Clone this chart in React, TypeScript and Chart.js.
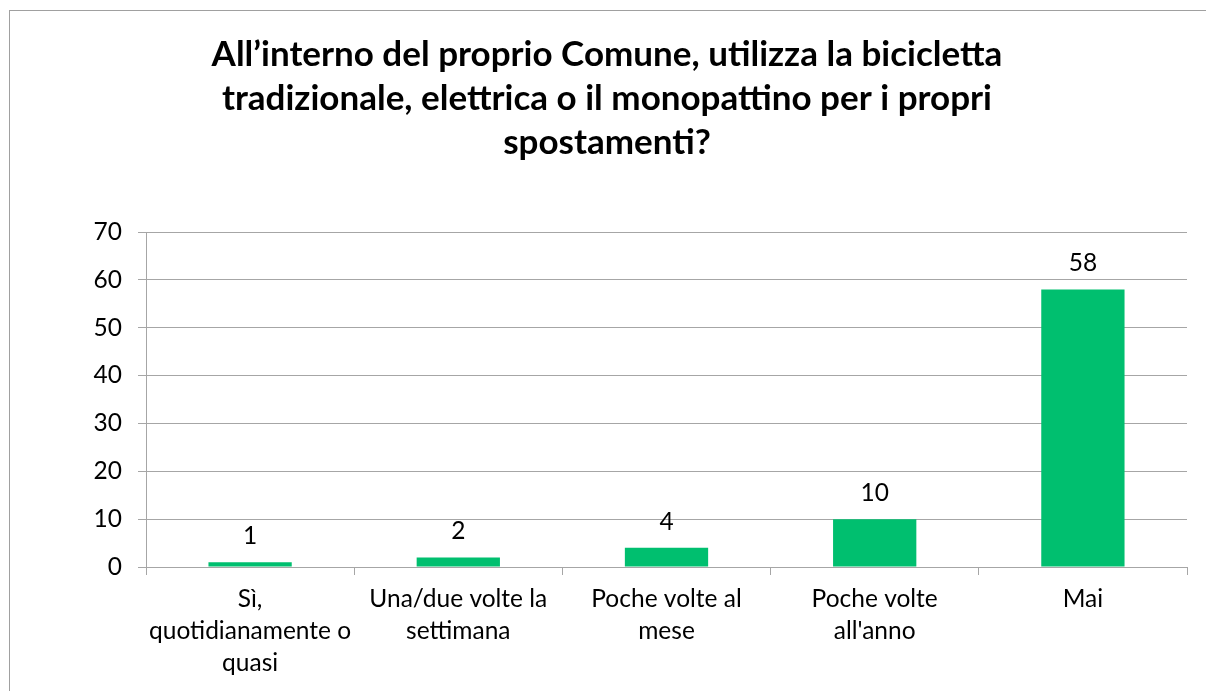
import React, { useEffect, useRef } from "react";
import { Chart, registerables } from "chart.js";

Chart.register(...registerables);

const titleLines = [
  "All’interno del proprio Comune, utilizza la bicicletta",
  "tradizionale, elettrica o il monopattino per i propri",
  "spostamenti?",
];
const categories: string[][] = [
  ["Sì,", "quotidianamente o", "quasi"],
  ["Una/due volte la", "settimana"],
  ["Poche volte al", "mese"],
  ["Poche volte", "all'anno"],
  ["Mai"],
];
const values = [1, 2, 4, 10, 58];
const yMin = 0;
const yMax = 70;
const yStep = 10;

const FONT = "Lato, 'Noto Sans', sans-serif";
const GRID = "#a6a6a6";
const TICK_SIZE = 24.5;

export default function App() {
  const ref = useRef<HTMLCanvasElement | null>(null);
  useEffect(() => {
    if (!ref.current) return;
    const frame = {
      id: "frame",
      beforeDraw(chart: any) {
        const ctx = chart.ctx;
        ctx.save();
        ctx.fillStyle = "#ffffff";
        ctx.fillRect(0, 0, chart.width, chart.height);
        ctx.strokeStyle = "#a0a0a0";
        ctx.lineWidth = 1;
        ctx.strokeRect(9.5, 10.5, chart.width + 20, chart.height + 20);
        ctx.restore();
      },
    };
    const titlePlugin = {
      id: "ctitle",
      afterDraw(chart: any) {
        const ctx = chart.ctx;
        ctx.save();
        ctx.fillStyle = "#000000";
        ctx.font = `bold 35px ${FONT}`;
        ctx.textAlign = "center";
        ctx.textBaseline = "alphabetic";
        titleLines.forEach((l, i) => ctx.fillText(l, 607, 66 + i * 44));
        ctx.restore();
      },
    };
    const dataLabels = {
      id: "dlabels",
      afterDatasetsDraw(chart: any) {
        const ctx = chart.ctx;
        const meta = chart.getDatasetMeta(0);
        ctx.save();
        ctx.fillStyle = "#000000";
        ctx.font = `${TICK_SIZE}px ${FONT}`;
        ctx.textAlign = "center";
        ctx.textBaseline = "alphabetic";
        meta.data.forEach((bar: any, i: number) => {
          ctx.fillText(String(values[i]), bar.x, bar.y - 18);
        });
        ctx.restore();
      },
    };
    const chart = new Chart(ref.current, {
      type: "bar",
      data: {
        labels: categories,
        datasets: [
          {
            data: values,
            backgroundColor: "#00bf6f",
            borderWidth: 0,
            categoryPercentage: 0.4,
            barPercentage: 1,
          },
        ],
      },
      options: {
        animation: false,
        responsive: false,
        maintainAspectRatio: false,
        devicePixelRatio: 1,
        layout: { padding: { top: 232, left: 8, right: 19, bottom: 0 } },
        plugins: {
          legend: { display: false },
          title: { display: false },
          tooltip: { enabled: false },
        },
        scales: {
          x: {
            grid: {
              offset: true,
              drawOnChartArea: false,
              drawTicks: true,
              tickLength: 8,
              color: GRID,
            },
            border: { display: true, color: GRID },
            ticks: {
              color: "#000000",
              font: { family: FONT, size: TICK_SIZE, lineHeight: 32 / TICK_SIZE },
              padding: 8,
              maxRotation: 0,
              autoSkip: false,
            },
            afterFit(scale: any) {
              scale.height = 124;
            },
          },
          y: {
            min: yMin,
            max: yMax,
            grid: { color: GRID, tickLength: 8, drawTicks: true },
            border: { display: true, color: GRID },
            ticks: {
              stepSize: yStep,
              color: "#000000",
              font: { family: FONT, size: TICK_SIZE },
              padding: 16,
            },
            afterFit(scale: any) {
              scale.width = 138;
            },
          },
        },
      },
      plugins: [frame, titlePlugin, dataLabels],
    });
    return () => chart.destroy();
  }, []);
  return (
    <div style={{ position: "fixed", left: 0, top: 0, width: 1206, height: 691, overflow: "hidden", background: "#fff" }}>
      <canvas ref={ref} width={1206} height={691} style={{ display: "block", width: 1206, height: 691 }} />
    </div>
  );
}
